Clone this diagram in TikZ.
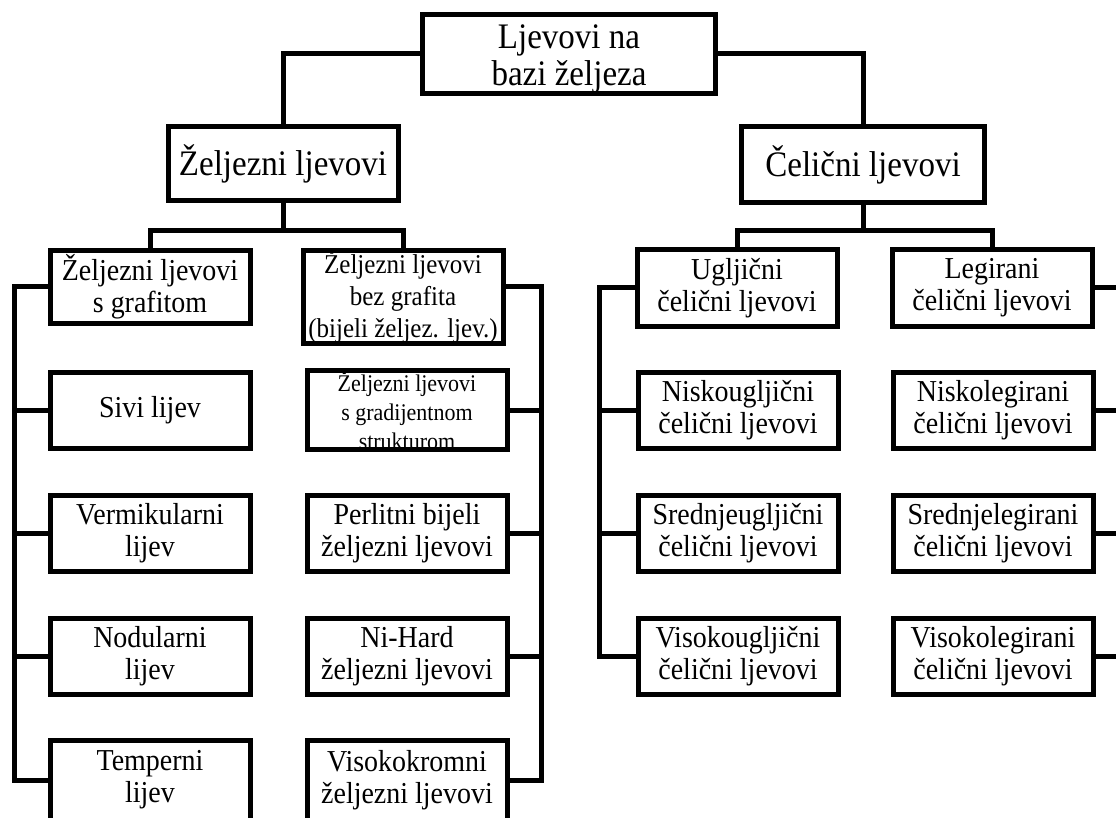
\documentclass[tikz,border=0pt]{standalone}
\usepackage{fontspec}
\setmainfont{Liberation Serif}[FakeStretch=0.92]
\begin{document}
\begin{tikzpicture}[x=1pt,y=-1pt,
	box/.style={draw, line width=5pt, inner sep=0pt, align=center, minimum width=200pt, minimum height=76pt, font=\fontsize{30.4}{32}\selectfont},
	bigbox/.style={box, font=\fontsize{35.9}{37}\selectfont},
	link/.style={line width=5pt}]
		\useasboundingbox (0,0) rectangle (1116,818);
		\clip (0,0) rectangle (1116,818);
		\def\lx{150};
		\def\rx{407};
		\def\ux{738};
		\def\gx{993};
		% top levels
		\node[bigbox, minimum width=293pt, minimum height=77pt] (fe) at (569,54) {\rule{0pt}{34pt}Ljevovi na\\bazi željeza};
		\node[bigbox, minimum width=230pt, minimum height=74pt] (zelj) at (283,164) {Željezni ljevovi};
		\node[bigbox, minimum width=243pt, minimum height=76pt] (celi) at (863,165) {Čelični ljevovi};
		\node[box, minimum height=73pt] (graf) at (\lx,287) {Željezni ljevovi\\s grafitom};
		\node[box, minimum height=93pt, font=\fontsize{27.2}{32}\selectfont] (bez) at (403,297) {Željezni ljevovi\\bez grafita\\(bijeli željez. ljev.)};
		\node[box] (ugl) at (737,288) {Ugljični\\čelični ljevovi};
		\node[box] (leg) at (992,288) {Legirani\\čelični ljevovi};
		% zeljezni ljevovi
		\node[box] (sivi) at (\lx,410) {Sivi lijev};
		\node[box] (verm) at (\lx,533) {Vermikularni\\lijev};
		\node[box] (nodu) at (\lx,656) {Nodularni\\lijev};
		\node[box, minimum height=80pt] (temp) at (\lx,780) {Temperni\\lijev};
		\node[box, font=\fontsize{23.9}{29}\selectfont] (grad) at (\rx,410) {Željezni ljevovi\\s gradijentnom\\strukturom};
		\node[box] (perl) at (\rx,533) {Perlitni bijeli\\željezni ljevovi};
		\node[box] (nihard) at (\rx,656) {Ni-Hard\\željezni ljevovi};
		\node[box, minimum height=80pt] (krom) at (\rx,780) {Visokokromni\\željezni ljevovi};
		% celicni ljevovi
		\node[box] (nisu) at (\ux,410) {Niskougljični\\čelični ljevovi};
		\node[box] (sredu) at (\ux,533) {Srednjeugljični\\čelični ljevovi};
		\node[box] (visu) at (\ux,656) {Visokougljični\\čelični ljevovi};
		\node[box] (nisl) at (\gx,410) {Niskolegirani\\čelični ljevovi};
		\node[box] (sredl) at (\gx,533) {Srednjelegirani\\čelični ljevovi};
		\node[box] (visl) at (\gx,656) {Visokolegirani\\čelični ljevovi};
		% connectors
		\coordinate (lr) at (14,0);
		\coordinate (rr) at (541,0);
		\coordinate (ur) at (599,0);
		\coordinate (gr) at (1132,0);
		\draw[link] (fe.west) -| (zelj.north);
		\draw[link] (fe.east) -| (celi.north);
		\draw[link] (zelj.south) -- ++(0,27) coordinate (zj) -| (graf.north);
		\draw[link] (zj) -| (bez.north);
		\draw[link] (celi.south) -- ++(0,25) coordinate (cj) -| (ugl.north);
		\draw[link] (cj) -| (leg.north);
		\draw[link] (graf.west) -| (lr |- temp.west) -- (temp.west);
		\draw[link] (bez.east |- graf.east) -| (rr |- krom.east) -- (krom.east);
		\draw[link] (ugl.west) -| (ur |- visu.west) -- (visu.west);
		\draw[link] (leg.east) -| (gr |- visl.east) -- (visl.east);
		\foreach \n in {sivi,verm,nodu} \draw[link] (\n.west) -- (\n.west -| lr);
		\foreach \n in {grad,perl,nihard} \draw[link] (\n.east) -- (\n.east -| rr);
		\foreach \n in {nisu,sredu} \draw[link] (\n.west) -- (\n.west -| ur);
		\foreach \n in {nisl,sredl} \draw[link] (\n.east) -- (\n.east -| gr);
\end{tikzpicture}
\end{document}
